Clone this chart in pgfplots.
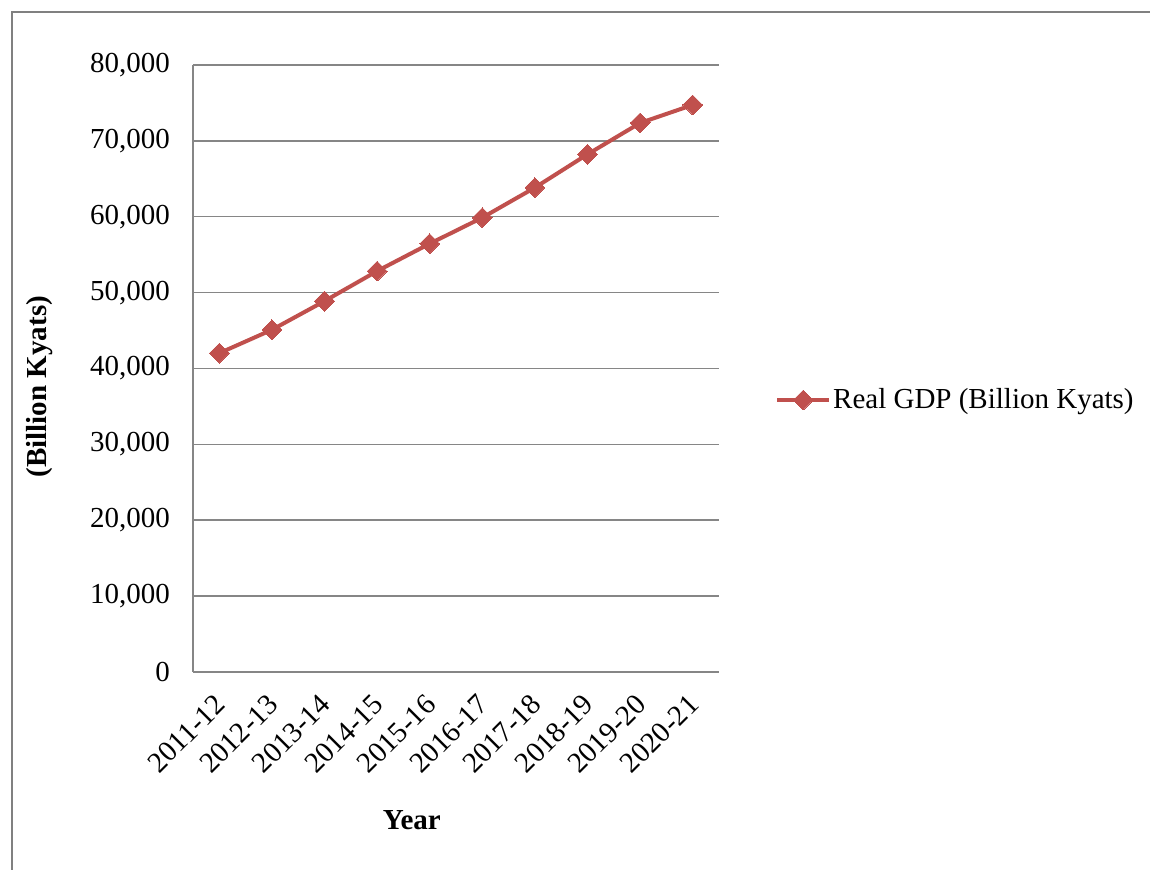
\documentclass[border=0pt]{standalone}
\usepackage{pgfplots}
\pgfplotsset{compat=1.18}
\usepackage{fontspec}
\setmainfont{Liberation Serif}
\definecolor{gdpred}{RGB}{192,80,77}
\definecolor{gridgray}{RGB}{134,134,134}
\definecolor{framegray}{RGB}{128,128,128}
\begin{document}
\begin{tikzpicture}
\path[use as bounding box] (0,0) rectangle (575pt,435pt);
\draw[framegray, line width=0.75pt] (6pt,0pt) -- (6pt,429pt) -- (575pt,429pt);
\begin{axis}[
  at={(96.5pt,99pt)}, anchor=south west,
  scale only axis, width=263pt, height=303.5pt,
  xmin=-0.5, xmax=9.5, ymin=0, ymax=80000,
  xtick={0,...,9},
  xticklabels={2011-12,2012-13,2013-14,2014-15,2015-16,2016-17,2017-18,2018-19,2019-20,2020-21},
  ytick={0,10000,20000,30000,40000,50000,60000,70000,80000},
  scaled y ticks=false,
  /pgf/number format/1000 sep={,},
  /pgf/number format/assume math mode=true,
  axis x line*=bottom, axis y line*=left,
  axis line style={gridgray, line width=0.75pt, -},
  major tick length=0pt,
  ymajorgrids, grid style={gridgray, line width=0.75pt},
  tick label style={font=\fontsize{14.5}{17}\selectfont},
  yticklabel style={anchor=east, xshift=-8pt},
  xticklabel style={xshift=-3pt, yshift=-5.5pt, rotate=45, anchor=north east},
  xlabel={Year}, ylabel={(Billion Kyats)},
  label style={font=\fontsize{14.5}{17}\selectfont\bfseries},
  xlabel style={at={(axis description cs:0.416,-0.244)}, anchor=center},
  ylabel style={at={(axis description cs:-0.291,0.47)}, anchor=center},
  legend style={at={(1.106,0.448)}, anchor=west, draw=none, fill=none,
    font=\fontsize{14.5}{17}\selectfont, inner sep=0pt, nodes={inner sep=1pt}},
  legend cell align=left,
  legend image code/.code={\draw[mark repeat=2,mark phase=2,#1] plot coordinates {(0pt,0pt) (13pt,0pt) (26pt,0pt)};},
]
\addplot[gdpred, line width=2pt, mark=square*, mark size=3.5pt, mark options={fill=gdpred, line width=0pt, rotate=45}]
  coordinates {(0,42020) (1,45100) (2,48880) (3,52840) (4,56450) (5,59880) (6,63840) (7,68230) (8,72360) (9,74740)};
\addlegendentry{Real GDP (Billion Kyats)}
\end{axis}
\end{tikzpicture}
\end{document}
